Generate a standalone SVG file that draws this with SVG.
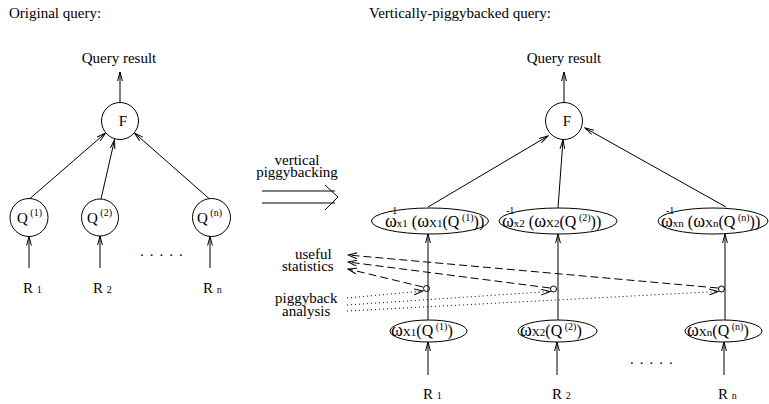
<svg xmlns="http://www.w3.org/2000/svg" width="769" height="404" viewBox="0 0 769 404">
<style>
text{font-family:"Liberation Serif","Times New Roman",serif;font-size:15px;fill:#000}
.m{font-size:16px}
.w{font-size:18px}
.s{font-size:11px}
.sup{font-size:10px}
.node{fill:none;stroke:#000;stroke-width:1}
.c line,.c path,.c polyline{fill:none;stroke:#000;stroke-width:1}
.a{marker-end:url(#ah)}
.dash{stroke-dasharray:8 4;marker-end:url(#ah2)}
.dot{stroke-dasharray:1 3;marker-end:url(#ah2)}
</style>
<defs>
<marker id="ah" viewBox="0 0 10 6" refX="9" refY="3" markerWidth="10" markerHeight="6" markerUnits="userSpaceOnUse" orient="auto"><path d="M0,0.6 L9,3 L0,5.4" fill="none" stroke="#000" stroke-width="1"/></marker>
<marker id="ah2" viewBox="0 0 10 7" refX="9" refY="3.5" markerWidth="10" markerHeight="7" markerUnits="userSpaceOnUse" orient="auto"><path d="M0,0.5 L9,3.5 L0,6.5" fill="none" stroke="#000" stroke-width="1"/></marker>
</defs>
<rect width="769" height="404" fill="#fff"/>

<g id="title-left"><text x="9" y="18">Original query:</text></g>
<g id="title-right"><text x="369" y="18">Vertically-piggybacked query:</text></g>

<g id="result-left"><text x="119" y="63" text-anchor="middle">Query result</text></g>
<g id="F-left"><circle class="node" cx="120" cy="121" r="18.5"/><text x="123" y="126" text-anchor="middle">F</text></g>
<g id="Q1"><circle class="node" cx="29" cy="217.5" r="19"/><text x="17" y="223">Q<tspan class="sup" dy="-7"> (1)</tspan></text></g>
<g id="Q2"><circle class="node" cx="100" cy="217.5" r="18.5"/><text x="87" y="223">Q<tspan class="sup" dy="-7"> (2)</tspan></text></g>
<g id="Qn"><circle class="node" cx="211.5" cy="217.5" r="19"/><text x="197" y="223">Q<tspan class="sup" dy="-7"> (n)</tspan></text></g>
<g id="R1-left"><text x="23" y="293">R <tspan class="sup">1</tspan></text></g>
<g id="R2-left"><text x="93" y="293">R <tspan class="sup">2</tspan></text></g>
<g id="Rn-left"><text x="203" y="293">R <tspan class="sup">n</tspan></text></g>
<g id="dots-left"><text x="140" y="256" letter-spacing="6">.....</text></g>

<g id="vp-label"><text x="297" y="165" text-anchor="middle">vertical</text><text x="297" y="177" text-anchor="middle">piggybacking</text></g>

<g id="result-right"><text x="564" y="63" text-anchor="middle">Query result</text></g>
<g id="F-right"><circle class="node" cx="564" cy="121" r="18.5"/><text x="567" y="126" text-anchor="middle">F</text></g>

<g id="top1"><ellipse class="node" cx="430" cy="221" rx="58.5" ry="13"/>
<text class="m"><tspan class="sup" x="389" y="214">-1</tspan><tspan x="385" y="227" class="w">ω</tspan><tspan class="s">x1</tspan> (<tspan class="w">ω</tspan><tspan class="s">X1</tspan>(Q<tspan class="sup" dy="-6"> (1)</tspan><tspan dy="6">))</tspan></text></g>
<g id="top2"><ellipse class="node" cx="558" cy="221" rx="59" ry="13"/>
<text class="m"><tspan class="sup" x="506" y="214">-1</tspan><tspan x="502" y="227" class="w">ω</tspan><tspan class="s">x2</tspan> (<tspan class="w">ω</tspan><tspan class="s">X2</tspan>(Q<tspan class="sup" dy="-6"> (2)</tspan><tspan dy="6">))</tspan></text></g>
<g id="top3"><ellipse class="node" cx="713" cy="221" rx="55" ry="13"/>
<text class="m"><tspan class="sup" x="666" y="214">-1</tspan><tspan x="661" y="227" class="w">ω</tspan><tspan class="s">xn</tspan> (<tspan class="w">ω</tspan><tspan class="s">Xn</tspan>(Q<tspan class="sup" dy="-6"> (n)</tspan><tspan dy="6">))</tspan></text></g>

<g id="bot1"><ellipse class="node" cx="428.5" cy="331" rx="38.5" ry="11"/>
<text x="391" y="336" class="m"><tspan class="w">ω</tspan><tspan class="s">X1</tspan>(Q<tspan class="sup" dy="-6"> (1)</tspan><tspan dy="6">)</tspan></text></g>
<g id="bot2"><ellipse class="node" cx="557.5" cy="331" rx="39.5" ry="11"/>
<text x="520" y="336" class="m"><tspan class="w">ω</tspan><tspan class="s">X2</tspan>(Q<tspan class="sup" dy="-6"> (2)</tspan><tspan dy="6">)</tspan></text></g>
<g id="bot3"><ellipse class="node" cx="723.5" cy="331" rx="38.5" ry="11"/>
<text x="687" y="336" class="m"><tspan class="w">ω</tspan><tspan class="s">Xn</tspan>(Q<tspan class="sup" dy="-6"> (n)</tspan><tspan dy="6">)</tspan></text></g>

<g id="R1-right"><text x="423" y="399">R <tspan class="sup">1</tspan></text></g>
<g id="R2-right"><text x="552" y="399">R <tspan class="sup">2</tspan></text></g>
<g id="Rn-right"><text x="718" y="399">R <tspan class="sup">n</tspan></text></g>
<g id="dots-right"><text x="630" y="364" letter-spacing="6">.....</text></g>

<g id="stats-label"><text x="295" y="259">useful</text><text x="282" y="271">statistics</text></g>
<g id="pb-label"><text x="275" y="303">piggyback</text><text x="282" y="316">analysis</text></g>

<g id="probes">
<circle class="node" cx="426.5" cy="288.5" r="3"/>
<circle class="node" cx="553.5" cy="289" r="3"/>
<circle class="node" cx="721.5" cy="289" r="3"/>
</g>

<g id="connectors" class="c">
<line class="a" x1="120" y1="102.5" x2="120" y2="72"/>
<line class="a" x1="30" y1="198.5" x2="105.5" y2="133"/>
<line class="a" x1="101" y1="199" x2="114.5" y2="140"/>
<line class="a" x1="209" y1="198.5" x2="134.5" y2="133"/>
<line class="a" x1="29" y1="268" x2="29" y2="236.5"/>
<line class="a" x1="100" y1="268" x2="100" y2="236"/>
<line class="a" x1="210" y1="268" x2="210" y2="236.5"/>

<line x1="262" y1="191" x2="335" y2="191"/>
<line x1="262" y1="203" x2="335" y2="203"/>
<polyline points="325,185 338,197 325,210"/>

<line class="a" x1="564" y1="102.5" x2="564" y2="72"/>
<line class="a" x1="428" y1="207" x2="548" y2="136"/>
<line class="a" x1="558" y1="208" x2="563" y2="140"/>
<line class="a" x1="726" y1="207" x2="585" y2="128"/>

<line class="a" x1="428" y1="320" x2="428" y2="234"/>
<line class="a" x1="558" y1="320" x2="558" y2="234"/>
<line class="a" x1="725" y1="320" x2="725" y2="234"/>

<line class="a" x1="428" y1="375" x2="428" y2="342"/>
<line class="a" x1="557" y1="375" x2="557" y2="342"/>
<line class="a" x1="724" y1="375" x2="724" y2="342"/>

<line class="dash" x1="718" y1="288" x2="348" y2="255"/>
<line class="dash" x1="550" y1="288" x2="348" y2="262"/>
<line class="dash" x1="423" y1="287" x2="348" y2="269"/>

<line class="dot" x1="347" y1="298" x2="423" y2="291"/>
<line class="dot" x1="347" y1="305" x2="550" y2="291.5"/>
<line class="dot" x1="347" y1="311" x2="718" y2="291.5"/>
</g>
</svg>
